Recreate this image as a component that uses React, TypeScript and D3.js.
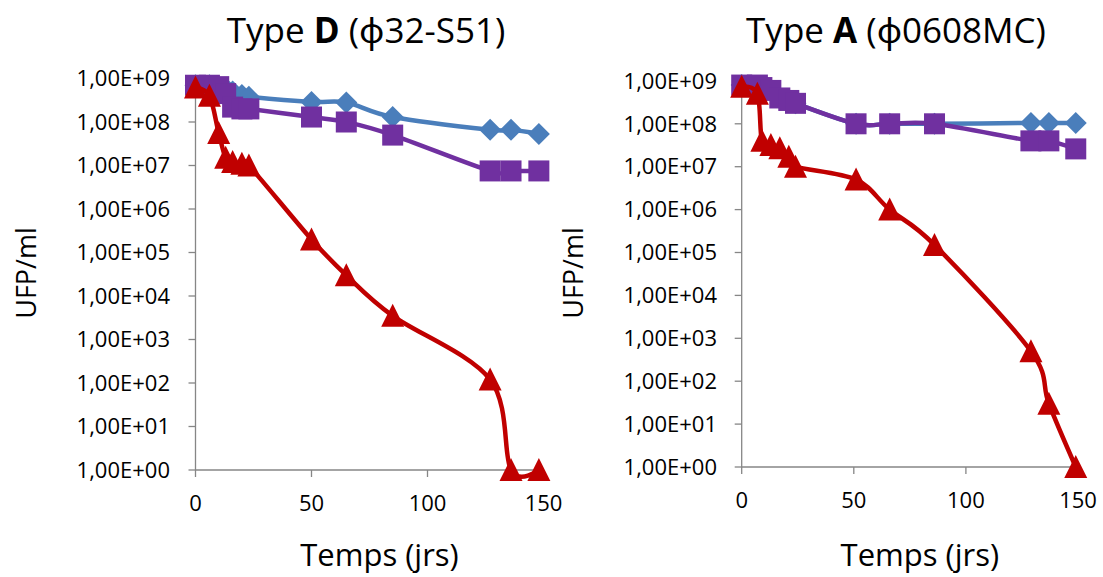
import React from "react";
import * as d3 from "d3";

// ---------- data ----------
const timesD = [0, 6, 10, 13, 16, 20, 23, 50, 65, 85, 127, 136, 148];
const blueD = [7e8, 7e8, 6.5e8, 6e8, 5e8, 4.2e8, 3.8e8, 2.9e8, 2.8e8, 1.3e8, 6.6e7, 6.6e7, 5.3e7];
const purpleD = [7e8, 7e8, 6.5e8, 4.5e8, 2.2e8, 2e8, 2e8, 1.3e8, 1e8, 5e7, 7.5e6, 7.5e6, 7.5e6];
const redD = [6.2e8, 4e8, 5.6e7, 1.5e7, 1.2e7, 1.1e7, 1e7, 2e5, 3e4, 3.5e3, 1.2e2, 1, 1];

const timesA = [0, 7, 9, 13, 17, 21, 24, 51, 66, 86, 129, 137, 149];
const blueA = [8e8, 7e8, 6.5e8, 6e8, 4e8, 3.5e8, 3e8, 1e8, 1e8, 1e8, 1.05e8, 1.05e8, 1.05e8];
const purpleA = [8e8, 8e8, 7e8, 6e8, 4e8, 3.5e8, 3e8, 1e8, 1e8, 1e8, 4e7, 4e7, 2.6e7];
const redA = [7.3e8, 5e8, 4e7, 3.2e7, 2.7e7, 1.7e7, 1e7, 5e6, 1e6, 1.5e5, 5e2, 3e1, 1];

const xTicks = [0, 50, 100, 150];
const yTicks = [1, 1e1, 1e2, 1e3, 1e4, 1e5, 1e6, 1e7, 1e8, 1e9];
const yTickLabels = [
  "1,00E+00", "1,00E+01", "1,00E+02", "1,00E+03", "1,00E+04",
  "1,00E+05", "1,00E+06", "1,00E+07", "1,00E+08", "1,00E+09",
];

const BLUE = "#4A7EBB";
const PURPLE = "#7030A0";
const RED = "#C00000";
const AXIS = "#868686";
const FONT = "'Open Sans', 'Noto Sans', sans-serif";

type Series = { values: number[]; color: string; marker: "diamond" | "square" | "triangle" };

function Marker({ x, y, kind, color }: { x: number; y: number; kind: string; color: string }) {
  if (kind === "diamond") {
    const r = 11;
    return <path d={`M${x},${y - r}L${x + r},${y}L${x},${y + r}L${x - r},${y}Z`} fill={color} />;
  }
  if (kind === "square") {
    const s = 21;
    return <rect x={x - s / 2} y={y - s / 2} width={s} height={s} fill={color} />;
  }
  const hw = 11.5;
  return <path d={`M${x},${y - 12}L${x + hw},${y + 11}L${x - hw},${y + 11}Z`} fill={color} />;
}

function Panel({
  times, series, x0, x1, y0, y1, titleLetter, titleRest, labelRight, yLabelX, titleX,
}: {
  times: number[]; series: Series[]; x0: number; x1: number; y0: number; y1: number;
  titleLetter: string; titleRest: string; labelRight: number; yLabelX: number; titleX: number;
}) {
  const x = d3.scaleLinear().domain([0, 150]).range([x0, x1]);
  const y = d3.scaleLog().domain([1, 1e9]).range([y0, y1]);
  const line = d3
    .line<number>()
    .x((_, i) => x(times[i]))
    .y((v) => y(v))
    .curve(d3.curveCardinal);
  const cx = (x0 + x1) / 2;
  return (
    <g>
      <text x={titleX} y={43} textAnchor="middle" fontFamily={FONT} fontSize={35} fill="#000">
        Type <tspan fontWeight="bold">{titleLetter}</tspan> {titleRest}
      </text>
      {/* axes */}
      <line x1={x0} x2={x0} y1={y1} y2={y0} stroke={AXIS} strokeWidth={1.3} />
      <line x1={x0} x2={x1} y1={y0} y2={y0} stroke={AXIS} strokeWidth={1.3} />
      {yTicks.map((t, i) => (
        <g key={"y" + i}>
          <line x1={x0 - 7} x2={x0} y1={y(t)} y2={y(t)} stroke={AXIS} strokeWidth={1.3} />
          <text x={labelRight} y={y(t)} dy="0.35em" textAnchor="end" fontFamily={FONT} fontSize={22} fill="#000">
            {yTickLabels[i]}
          </text>
        </g>
      ))}
      {xTicks.map((t) => (
        <g key={"x" + t}>
          <line x1={x(t)} x2={x(t)} y1={y0} y2={y0 + 7} stroke={AXIS} strokeWidth={1.3} />
          <text x={x(t)} y={y0 + 33} dy="0.35em" textAnchor="middle" fontFamily={FONT} fontSize={22} fill="#000">
            {t}
          </text>
        </g>
      ))}
      <text x={cx + 10} y={566} textAnchor="middle" fontFamily={FONT} fontSize={31} fill="#000">
        Temps (jrs)
      </text>
      <text
        transform={`translate(${yLabelX},273) rotate(-90)`}
        textAnchor="middle"
        dy="0.35em"
        fontFamily={FONT}
        fontSize={27}
        fill="#000"
      >
        UFP/ml
      </text>
      {/* series */}
      {series.map((s, si) => (
        <g key={"s" + si}>
          <path d={line(s.values) || ""} fill="none" stroke={s.color} strokeWidth={4.5} strokeLinejoin="round" />
          {s.values.map((v, i) => (
            <Marker key={i} x={x(times[i])} y={y(v)} kind={s.marker} color={s.color} />
          ))}
        </g>
      ))}
    </g>
  );
}

export default function App() {
  return (
    <svg width={1103} height={577} style={{ position: "absolute", left: 0, top: 0, background: "#fff" }}>
      <rect width={1103} height={577} fill="#fff" />
      <Panel
        times={timesD}
        series={[
          { values: blueD, color: BLUE, marker: "diamond" },
          { values: purpleD, color: PURPLE, marker: "square" },
          { values: redD, color: RED, marker: "triangle" },
        ]}
        x0={195.5}
        x1={543.5}
        y0={470}
        y1={78.5}
        titleLetter="D"
        titleRest="(ϕ32-S51)"
        labelRight={170}
        yLabelX={27}
        titleX={366}
      />
      <Panel
        times={timesA}
        series={[
          { values: blueA, color: BLUE, marker: "diamond" },
          { values: purpleA, color: PURPLE, marker: "square" },
          { values: redA, color: RED, marker: "triangle" },
        ]}
        x0={741.7}
        x1={1078}
        y0={467}
        y1={80.9}
        titleLetter="A"
        titleRest="(ϕ0608MC)"
        labelRight={717}
        yLabelX={574}
        titleX={896}
      />
    </svg>
  );
}
